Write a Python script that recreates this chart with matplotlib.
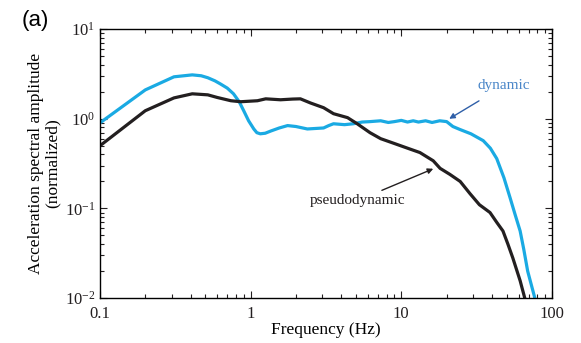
import numpy as np
import matplotlib.pyplot as plt
from matplotlib.ticker import LogLocator, NullFormatter, FixedLocator, FixedFormatter

plt.rcParams['font.family'] = ['Liberation Serif', 'DejaVu Serif']
plt.rcParams['mathtext.fontset'] = 'stix'
plt.rcParams['axes.unicode_minus'] = False

# spectra
dyn_f = [0.1, 0.2, 0.31, 0.41, 0.47, 0.52, 0.58, 0.63, 0.7, 0.77, 0.84, 0.9,
         0.97, 1.05, 1.1, 1.16, 1.25, 1.36, 1.55, 1.76, 2.0, 2.38, 2.7, 3.05,
         3.3, 3.55, 4.2, 4.8, 5.5, 6.2, 7.3, 8.2, 9, 10, 11, 12, 13, 14.5, 16,
         18, 20, 22, 24.5, 29, 35, 39, 43, 48, 52.7, 57, 61.5, 65, 69, 73, 77]
dyn_a = [0.9, 2.1, 2.94, 3.09, 3.02, 2.87, 2.65, 2.45, 2.2, 1.9, 1.55, 1.23,
         0.95, 0.77, 0.7, 0.68, 0.69, 0.73, 0.79, 0.84, 0.82, 0.77, 0.78, 0.79,
         0.84, 0.88, 0.86, 0.88, 0.92, 0.93, 0.95, 0.91, 0.93, 0.96, 0.92, 0.95,
         0.92, 0.95, 0.91, 0.95, 0.93, 0.82, 0.76, 0.68, 0.57, 0.47, 0.36, 0.22,
         0.132, 0.085, 0.056, 0.035, 0.02, 0.014, 0.01]

ps_f = [0.1, 0.2, 0.31, 0.41, 0.52, 0.6, 0.74, 0.86, 1.11, 1.26, 1.58, 1.9,
        2.14, 2.5, 3.05, 3.55, 4.4, 5.1, 6.2, 7.3, 9, 11, 13.3, 16.3, 18.1,
        21, 24.6, 28.6, 33, 38.8, 43, 47.3, 51, 55, 61.5, 66]
ps_a = [0.5, 1.23, 1.71, 1.9, 1.85, 1.73, 1.59, 1.55, 1.59, 1.67, 1.63, 1.66,
        1.67, 1.5, 1.33, 1.14, 1.03, 0.88, 0.70, 0.6, 0.53, 0.47, 0.42, 0.34,
        0.28, 0.24, 0.2, 0.146, 0.11, 0.09, 0.07, 0.056, 0.04, 0.028, 0.0156,
        0.01]

x_ticks = [0.1, 1, 10, 100]
x_labels = ['0.1', '1', '10', '100']

fig = plt.figure(figsize=(5.81, 3.43), dpi=100)
ax = fig.add_axes([0.172, 0.131, 0.778, 0.784])

ax.plot(dyn_f, dyn_a, color='#1AAAE3', lw=2.3)
ax.plot(ps_f, ps_a, color='#231F20', lw=2.3)

ax.set_xscale('log')
ax.set_yscale('log')
ax.set_xlim(0.1, 100)
ax.set_ylim(1e-2, 1e1)

ax.xaxis.set_major_locator(FixedLocator(x_ticks))
ax.xaxis.set_major_formatter(FixedFormatter(x_labels))
ax.xaxis.set_minor_locator(LogLocator(base=10, subs=np.arange(2, 10)))
ax.xaxis.set_minor_formatter(NullFormatter())
ax.yaxis.set_minor_locator(LogLocator(base=10, subs=np.arange(2, 10)))
ax.yaxis.set_minor_formatter(NullFormatter())

ax.tick_params(which='both', direction='in', top=True, right=True,
               labelsize=12, width=0.8, colors='#231F20')
ax.tick_params(which='major', length=5)
ax.tick_params(which='minor', length=3)
ax.tick_params(axis='x', which='major', pad=6)
for s in ax.spines.values():
    s.set_linewidth(1.0)

ax.set_xlabel('Frequency (Hz)', fontsize=12.5, labelpad=0)
ax.set_ylabel('Acceleration spectral amplitude\n(normalized)', fontsize=12.5,
              labelpad=3, linespacing=1.05)

ax.annotate('dynamic', xy=(20.8, 1.0), xytext=(48, 2.33), color='#4A86C8',
            fontsize=11, ha='center', va='center',
            arrowprops=dict(arrowstyle='-|>', color='#2F5FA8', lw=1.0,
                            shrinkA=8, shrinkB=0, mutation_scale=8))
ax.annotate('pseudodynamic', xy=(16.3, 0.277), xytext=(5.1, 0.122),
            color='#231F20', fontsize=11, ha='center', va='center',
            arrowprops=dict(arrowstyle='-|>', color='#231F20', lw=1.0,
                            shrinkA=2, shrinkB=0, mutation_scale=8))

fig.text(0.038, 0.94, '(a)', fontsize=16, family='Liberation Sans',
         ha='left', va='center')

fig.savefig('out.png', dpi=100)
